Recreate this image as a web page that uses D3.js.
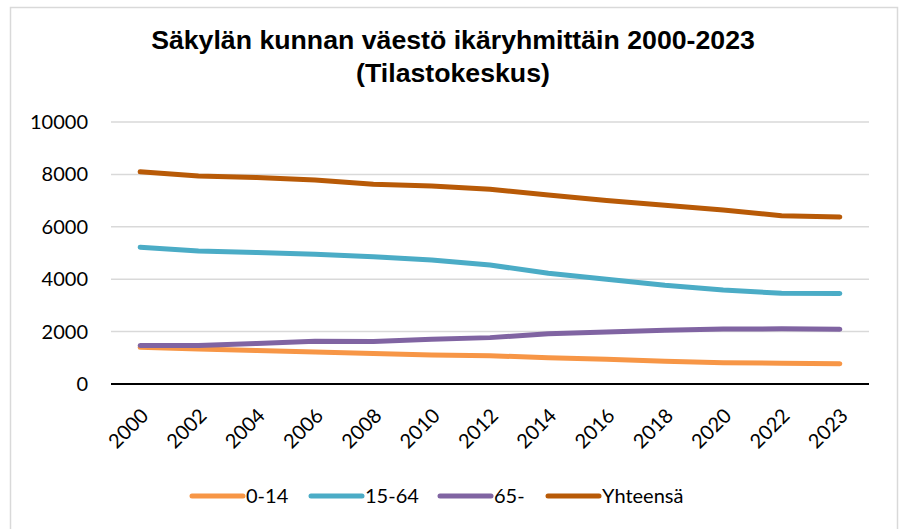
<!DOCTYPE html>
<html>
<head>
<meta charset="utf-8">
<script src="https://cdn.jsdelivr.net/npm/d3@7"></script>
<style>
  html, body { margin: 0; padding: 0; background: #fff; }
  #chart { width: 902px; height: 529px; }
  .tick-label { font-family: Lato, "Open Sans", sans-serif; font-size: 20px; fill: #000; }
  .title { font-family: "Liberation Sans", Arial, sans-serif; font-weight: bold; font-size: 26.7px; fill: #000; }
</style>
</head>
<body>
<div id="chart"></div>
<script>
// values
const years = ["2000", "2002", "2004", "2006", "2008", "2010", "2012", "2014", "2016", "2018", "2020", "2022", "2023"];
const age0to14 = [1400, 1340, 1280, 1220, 1160, 1110, 1080, 1005, 945, 870, 815, 790, 775];
const age15to64 = [5220, 5080, 5020, 4950, 4860, 4735, 4540, 4225, 4000, 3770, 3590, 3460, 3455];
const age65plus = [1465, 1470, 1550, 1630, 1620, 1705, 1770, 1920, 1985, 2050, 2100, 2105, 2090];
const total = [8100, 7940, 7880, 7790, 7620, 7555, 7430, 7215, 7000, 6820, 6640, 6425, 6375];
const yTicks = [0, 2000, 4000, 6000, 8000, 10000];

const series = [
    { name: "0-14", values: age0to14, color: "#F79646" },
    { name: "15-64", values: age15to64, color: "#4BACC6" },
    { name: "65-", values: age65plus, color: "#8064A2" },
    { name: "Yhteensä", values: total, color: "#B85A07" }
];

const svg = d3.select("#chart")
    .append("svg")
    .attr("width", 902)
    .attr("height", 529);

// chart frame
svg.append("rect")
    .attr("x", 10.5)
    .attr("y", 7.5)
    .attr("width", 887)
    .attr("height", 540)
    .attr("fill", "#fff")
    .attr("stroke", "#d9d9d9")
    .attr("stroke-width", 1.5);

// title
svg.append("text")
    .attr("class", "title")
    .attr("x", 453)
    .attr("y", 49)
    .attr("text-anchor", "middle")
    .text("Säkylän kunnan väestö ikäryhmittäin 2000-2023");
svg.append("text")
    .attr("class", "title")
    .attr("x", 453)
    .attr("y", 82)
    .attr("text-anchor", "middle")
    .text("(Tilastokeskus)");

const x = d3.scalePoint()
    .domain(years)
    .range([111, 869])
    .padding(0.5);

const y = d3.scaleLinear()
    .domain([0, 10000])
    .range([384, 122]);

// gridlines
svg.append("g")
    .selectAll("line")
    .data(yTicks.filter(d => d > 0))
    .enter()
    .append("line")
    .attr("x1", 111)
    .attr("x2", 869)
    .attr("y1", d => y(d))
    .attr("y2", d => y(d))
    .attr("stroke", "#d9d9d9")
    .attr("stroke-width", 1.5);

// y axis labels
const yAxis = d3.axisLeft(y).tickValues(yTicks).tickSize(0).tickPadding(0).tickFormat(d3.format("d"));
const yg = svg.append("g")
    .attr("transform", "translate(88,0)")
    .call(yAxis);
yg.select(".domain").remove();
yg.selectAll("text").attr("class", "tick-label").attr("font-size", null).attr("font-family", null);

// x axis line + rotated labels
const xAxis = d3.axisBottom(x).tickSize(0).tickPadding(0);
const xg = svg.append("g")
    .attr("transform", "translate(0,384)")
    .call(xAxis);
xg.select(".domain")
    .attr("stroke", "#000")
    .attr("stroke-width", 2)
    .attr("d", "M111,0H869");
xg.selectAll("text")
    .attr("class", "tick-label")
    .attr("font-size", null)
    .attr("font-family", null)
    .attr("text-anchor", "end")
    .attr("dy", "0.35em")
    .attr("y", 0)
    .attr("transform", "translate(4,28) rotate(-45)");

// lines
const line = d3.line()
    .x((d, i) => x(years[i]))
    .y(d => y(d));

svg.append("g")
    .selectAll("path")
    .data(series)
    .enter()
    .append("path")
    .attr("d", d => line(d.values))
    .attr("fill", "none")
    .attr("stroke", d => d.color)
    .attr("stroke-width", 5)
    .attr("stroke-linecap", "round")
    .attr("stroke-linejoin", "round");

// legend
const legendX = [192, 311, 440, 548];
const legend = svg.append("g")
    .selectAll("g")
    .data(series)
    .enter()
    .append("g")
    .attr("transform", (d, i) => `translate(${legendX[i]},496)`);
legend.append("line")
    .attr("x1", 0)
    .attr("x2", 51)
    .attr("stroke", d => d.color)
    .attr("stroke-width", 5)
    .attr("stroke-linecap", "round");
legend.append("text")
    .attr("class", "tick-label")
    .attr("x", 54)
    .attr("dy", "0.35em")
    .text(d => d.name);
</script>
</body>
</html>
